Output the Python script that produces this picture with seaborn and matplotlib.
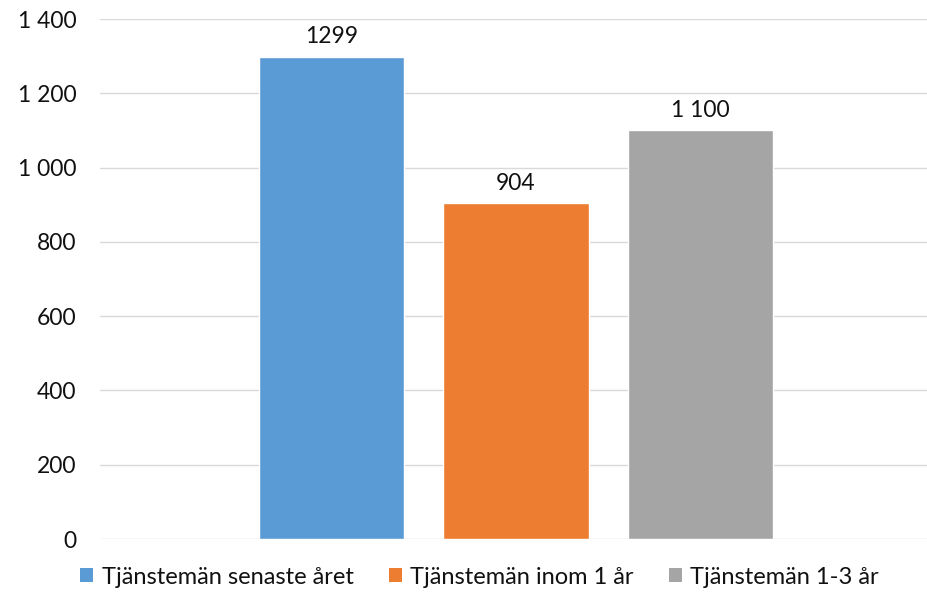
import matplotlib
matplotlib.use("Agg")
import matplotlib.pyplot as plt
import seaborn as sns
import pandas as pd
from matplotlib.patches import Patch

series = ["Tjänstemän senaste året", "Tjänstemän inom 1 år", "Tjänstemän 1-3 år"]
values = [1299, 904, 1100]
value_labels = ["1299", "904", "1 100"]
colors = ["#5B9BD5", "#ED7D31", "#A5A5A5"]
y_ticks = [0, 200, 400, 600, 800, 1000, 1200, 1400]

sns.set_theme(style="white")
plt.rcParams["font.family"] = ["Lato", "DejaVu Sans"]

df = pd.DataFrame({"serie": series, "antal": values})

fig = plt.figure(figsize=(9.28, 5.93), dpi=100)
ax = fig.add_axes([100 / 928, 1 - 539 / 593, 828 / 928, 520 / 593])

sns.barplot(data=df, x="serie", y="antal", hue="serie", palette=colors,
            width=0.79, dodge=False, legend=False, ax=ax, saturation=1)

ax.set_xlim(-1.255, 3.233)
ax.set_ylim(0, 1400)
ax.set_yticks(y_ticks)
ax.set_yticklabels([f"{t:,}".replace(",", " ") for t in y_ticks], fontsize=16.5, color="#111111")
ax.set_xticks([])
ax.set_xlabel("")
ax.set_ylabel("")
ax.tick_params(axis="y", length=0, pad=17)
ax.grid(axis="y", color="#D9D9D9", linewidth=1)
ax.set_axisbelow(True)
for s in ax.spines.values():
    s.set_visible(False)

for i, (v, lab) in enumerate(zip(values, value_labels)):
    ax.annotate(lab, (i, v), xytext=(0, 7), textcoords="offset points",
                ha="center", va="bottom", fontsize=16.5, color="#111111")

handles = [Patch(facecolor=c, edgecolor="none") for c in colors]
fig.legend(handles, series, loc="center", bbox_to_anchor=(0.517, 1 - 577 / 593),
           ncol=3, frameon=False, fontsize=17, handlelength=0.55, handleheight=0.55,
           handletextpad=0.35, columnspacing=1.5, labelcolor="#111111")

fig.savefig("out.png", dpi=100)
